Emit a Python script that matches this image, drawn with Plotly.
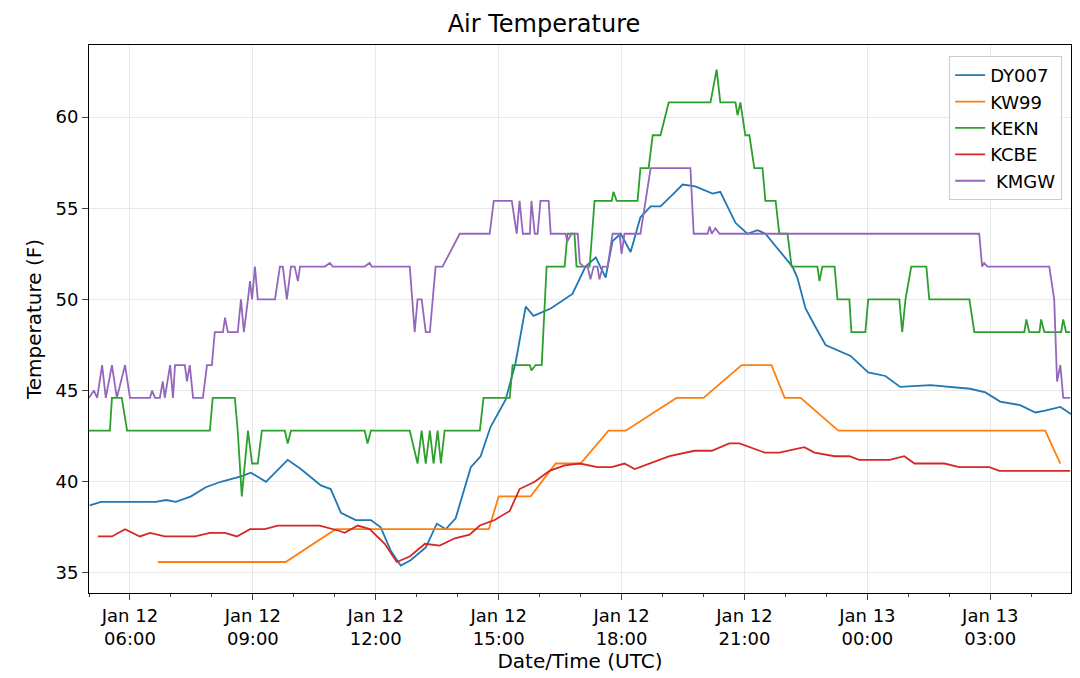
import plotly.graph_objects as go
from datetime import datetime, timedelta

# times in hours since 2020-01-12 00:00 UTC
dy_t = [5.02,5.29,6.63,6.88,7.12,7.49,7.85,8.22,8.71,8.95,9.32,9.85,10.17,10.66,10.9,11.15,11.51,11.88,12.12,12.37,12.61,12.85,13.22,13.49,13.71,13.95,14.32,14.56,14.8,15.17,15.41,15.66,15.85,16.27,16.8,17.12,17.37,17.61,17.78,17.98,18.22,18.46,18.71,18.95,19.27,19.49,19.8,20.22,20.41,20.78,21.07,21.32,21.51,21.88,22.17,22.29,22.49,22.73,22.98,23.59,24.02,24.44,24.8,25.54,26.51,26.88,27.24,27.73,28.1,28.34,28.71,28.98]
dy_v = [38.7,38.9,38.9,39.0,38.9,39.2,39.7,40.0,40.3,40.5,40.0,41.2,40.7,39.8,39.6,38.3,37.9,37.9,37.5,36.2,35.4,35.7,36.4,37.7,37.4,38.0,40.8,41.4,43.0,44.5,46.5,49.6,49.1,49.5,50.3,51.8,52.3,51.2,53.2,53.6,52.6,54.5,55.1,55.1,55.8,56.3,56.2,55.8,55.9,54.2,53.6,53.8,53.6,52.6,51.8,51.2,49.5,48.5,47.5,46.9,46.0,45.8,45.2,45.3,45.1,44.9,44.4,44.2,43.8,43.9,44.1,43.7]

kw_t = [6.68,9.80,11.02,14.76,15.0,15.78,16.39,17.0,17.68,18.1,19.34,20.0,20.93,21.66,21.98,22.37,23.29,28.34,28.71]
kw_v = [35.6,35.6,37.4,37.4,39.2,39.2,41.0,41.0,42.8,42.8,44.6,44.6,46.4,46.4,44.6,44.6,42.8,42.8,41.0]

kekn_t = [5.0,5.51,5.56,5.8,5.93,7.83,7.95,8.02,8.56,8.63,8.73,8.88,8.98,9.12,9.22,9.78,9.85,9.93,11.73,11.8,11.88,12.83,13.02,13.12,13.22,13.32,13.41,13.51,13.59,13.68,14.54,14.63,15.27,15.34,15.76,15.8,15.9,16.05,16.17,16.61,16.68,16.85,16.9,17.22,17.34,17.76,17.8,17.88,18.39,18.46,18.66,18.76,18.95,19.15,20.17,20.32,20.41,20.78,20.83,20.9,21.02,21.12,21.24,21.44,21.51,21.76,21.85,22.05,22.15,22.78,22.83,22.9,23.2,23.27,23.56,23.61,23.95,24.02,24.78,24.85,24.93,25.07,25.44,25.51,26.49,26.61,27.83,27.88,27.95,28.2,28.24,28.32,28.73,28.78,28.85,28.95]
kekn_v = [42.8,42.8,44.6,44.6,42.8,42.8,42.8,44.6,44.6,42.8,39.2,42.8,41.0,41.0,42.8,42.8,42.1,42.8,42.8,42.1,42.8,42.8,41.0,42.8,41.0,42.8,41.0,42.8,41.0,42.8,42.8,44.6,44.6,46.4,46.4,46.1,46.4,46.4,51.8,51.8,53.6,53.6,51.8,51.8,55.4,55.4,55.9,55.4,55.4,57.2,57.2,59.0,59.0,60.8,60.8,62.6,60.8,60.8,60.1,60.8,59.0,59.0,57.2,57.2,55.4,55.4,53.6,53.6,51.8,51.8,51.0,51.8,51.8,50.0,50.0,48.2,48.2,50.0,50.0,48.2,50.0,51.8,51.8,50.0,50.0,48.2,48.2,48.9,48.2,48.2,48.9,48.2,48.2,48.9,48.2,48.2]

kcbe_t = [5.22,5.56,5.88,6.24,6.49,6.85,7.59,7.95,8.32,8.61,8.93,9.29,9.61,10.63,11.12,11.24,11.56,11.85,12.22,12.51,12.83,13.2,13.56,13.93,14.29,14.54,14.9,15.27,15.51,15.88,16.24,16.61,16.98,17.41,17.76,18.07,18.32,18.68,19.17,19.78,20.2,20.63,20.88,21.49,21.85,22.46,22.71,23.2,23.56,23.8,24.54,24.9,25.15,25.88,26.24,26.98,27.22,28.95]
kcbe_v = [37.0,37.0,37.4,37.0,37.2,37.0,37.0,37.2,37.2,37.0,37.4,37.4,37.6,37.6,37.3,37.2,37.6,37.4,36.6,35.6,35.9,36.6,36.5,36.9,37.1,37.6,37.9,38.4,39.6,40.0,40.6,40.9,41.0,40.8,40.8,41.0,40.7,41.0,41.4,41.7,41.7,42.1,42.1,41.6,41.6,41.9,41.6,41.4,41.4,41.2,41.2,41.4,41.0,41.0,40.8,40.8,40.6,40.6]

kmgw_t = [5.0,5.12,5.2,5.32,5.41,5.56,5.68,5.88,6.0,6.49,6.54,6.61,6.73,6.8,6.85,6.98,7.05,7.1,7.34,7.39,7.46,7.54,7.78,7.88,8.0,8.07,8.27,8.32,8.39,8.63,8.71,8.78,8.88,8.93,8.98,9.05,9.12,9.54,9.66,9.73,9.83,9.93,10.02,10.1,10.15,10.76,10.88,10.95,11.73,11.85,11.9,12.83,12.95,13.02,13.12,13.22,13.32,13.46,13.63,14.05,14.78,14.88,15.32,15.44,15.51,15.59,15.76,15.8,15.88,15.95,16.02,16.22,16.27,16.63,16.68,16.78,16.93,16.98,17.07,17.17,17.24,17.32,17.41,17.46,17.54,17.66,17.78,17.95,18.0,18.07,18.46,18.59,18.71,19.68,19.76,20.1,20.15,20.2,20.29,20.39,26.73,26.8,26.85,26.93,28.44,28.56,28.63,28.71,28.78,28.95]
kmgw_v = [44.6,45.0,44.6,46.4,44.6,46.4,44.6,46.4,44.6,44.6,45.0,44.6,44.6,45.5,44.6,46.4,44.6,46.4,46.4,45.5,46.4,44.6,44.6,46.4,46.4,48.2,48.2,49.0,48.2,48.2,50.0,48.2,50.0,51.0,50.0,51.8,50.0,50.0,51.8,51.8,50.0,51.8,51.8,51.0,51.8,51.8,52.0,51.8,51.8,52.0,51.8,51.8,48.2,50.0,50.0,48.2,48.2,51.8,51.8,53.6,53.6,55.4,55.4,53.6,55.4,53.6,53.6,55.4,53.6,53.6,55.4,55.4,53.6,53.6,53.2,53.6,53.6,52.0,51.8,51.8,51.1,51.8,51.8,51.1,51.8,51.8,53.6,53.6,52.5,53.6,53.6,55.4,57.2,57.2,53.6,53.6,54.0,53.6,53.9,53.6,53.6,51.8,52.0,51.8,51.8,50.0,45.5,46.4,44.6,44.6]

base = datetime(2020, 1, 12)
def T(hs):
    return [base + timedelta(hours=h) for h in hs]

series = [("DY007", dy_t, dy_v, "#1f77b4"), ("KW99", kw_t, kw_v, "#ff7f0e"),
          ("KEKN", kekn_t, kekn_v, "#2ca02c"), ("KCBE", kcbe_t, kcbe_v, "#d62728"),
          (" KMGW", kmgw_t, kmgw_v, "#9467bd")]

fig = go.Figure()
for name, t, v, c in series:
    fig.add_trace(go.Scatter(x=T(t), y=v, mode="lines", name=name, line=dict(color=c, width=1.8)))

tickvals = T([6, 9, 12, 15, 18, 21, 24, 27])
ticktext = ["Jan 12<br>06:00", "Jan 12<br>09:00", "Jan 12<br>12:00", "Jan 12<br>15:00",
            "Jan 12<br>18:00", "Jan 12<br>21:00", "Jan 13<br>00:00", "Jan 13<br>03:00"]

fig.update_layout(
    width=1072, height=670, plot_bgcolor="white", paper_bgcolor="white",
    font=dict(family="DejaVu Sans", size=18, color="black"),
    margin=dict(l=81, r=9, t=37, b=85),
    title=dict(text="Air Temperature", x=0.5, xanchor="center", y=0.99, yanchor="top", font=dict(size=24)),
    legend=dict(x=0.991, xanchor="right", y=0.98, yanchor="top", bordercolor="#cccccc", borderwidth=1,
                bgcolor="rgba(255,255,255,0.8)", font=dict(size=18)),
    xaxis=dict(range=T([5.0, 28.97]), tickvals=tickvals, ticktext=ticktext, showgrid=True, automargin=False,
               gridcolor="#e8e8e8", showline=True, linecolor="black", mirror=True, ticks="outside",
               ticklen=6, title=dict(text="Date/Time (UTC)", font=dict(size=20), standoff=3),
               minor=dict(dtick=3600000, ticks="outside", ticklen=3, showgrid=False)),
    yaxis=dict(range=[33.9, 63.95], dtick=5, showgrid=True, gridcolor="#e8e8e8", showline=True, automargin=False,
               linecolor="black", mirror=True, ticks="outside", ticklen=6, zeroline=False,
               title=dict(text="Temperature (F)", font=dict(size=20), standoff=8)),
)
fig.write_html("out.html")
